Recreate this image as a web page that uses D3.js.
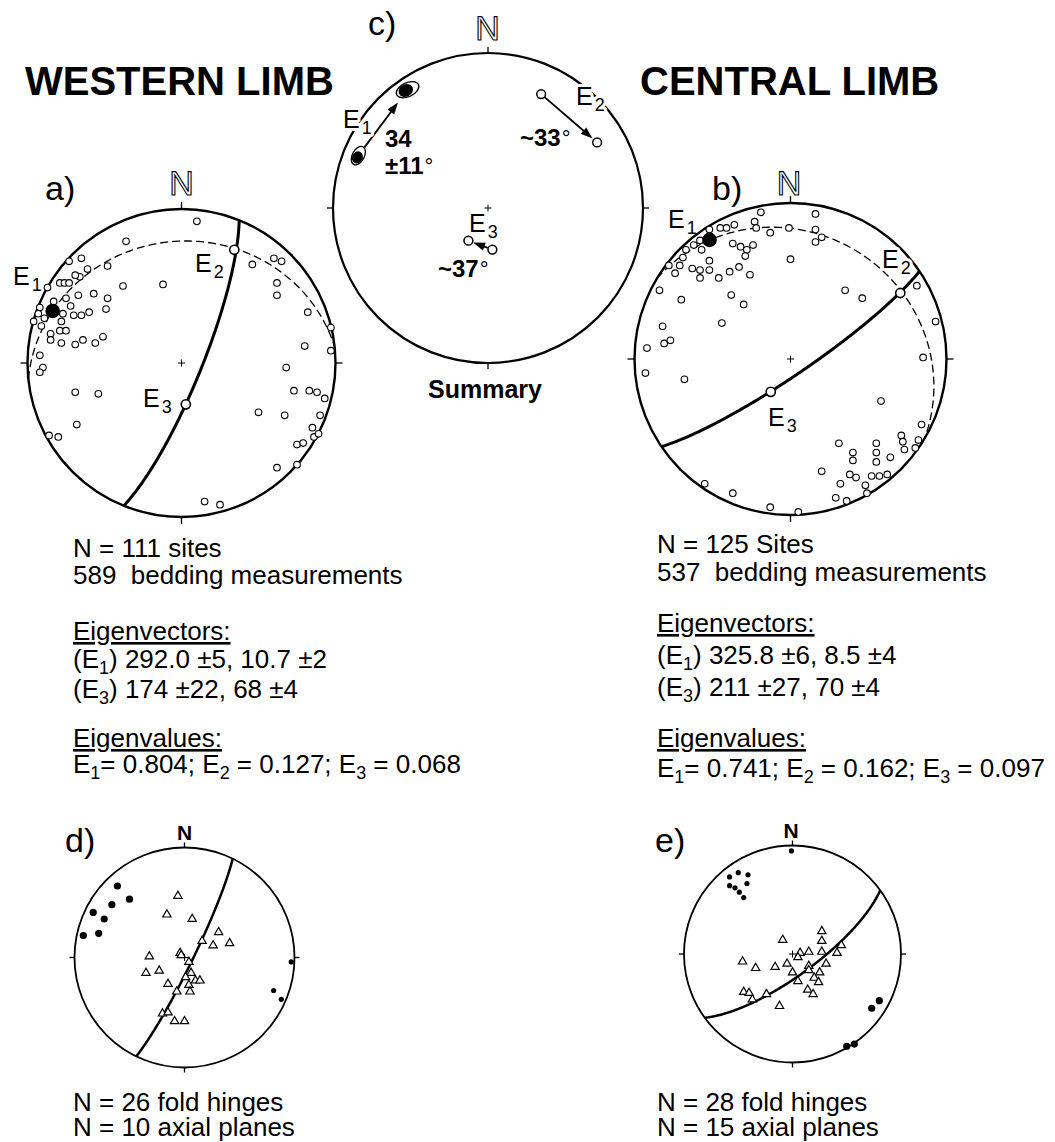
<!DOCTYPE html>
<html>
<head>
<meta charset="utf-8">
<script src="https://cdn.jsdelivr.net/npm/d3@7"></script>
<style>
  body { margin: 0; background: #fff; }
  svg { display: block; }
  text { font-family: "Liberation Sans", Arial, Helvetica, sans-serif; fill: #000; }
</style>
</head>
<body>
<svg id="fig" width="1055" height="1142"></svg>
<script>
const westPoles = [
  [0.10, 0.92], [-0.36, 0.79], [-0.73, 0.66], [-0.65, 0.68], [-0.61, 0.61], [-0.48, 0.63],
  [-0.66, 0.56], [-0.69, 0.57], [-0.79, 0.52], [-0.76, 0.52], [-0.73, 0.52], [-0.87, 0.49],
  [-0.75, 0.42], [-0.67, 0.44], [-0.57, 0.45], [-0.48, 0.42], [-0.38, 0.50], [-0.12, 0.51],
  [-0.83, 0.40], [-0.92, 0.36], [-0.49, 0.35], [-0.60, 0.33], [-0.70, 0.31], [-0.65, 0.31],
  [-0.72, 0.37], [-0.78, 0.27], [-0.96, 0.27], [-0.91, 0.24], [-0.85, 0.19], [-0.79, 0.21],
  [-0.75, 0.21], [-0.85, 0.15], [-0.78, 0.13], [-0.69, 0.12], [-0.64, 0.15], [-0.56, 0.13],
  [-0.51, 0.17], [-0.93, 0.32], [-0.89, 0.29], [-0.77, 0.32], [-0.92, 0.05], [-0.90, -0.03],
  [-0.92, -0.06], [-0.69, -0.19], [-0.54, -0.20], [-0.68, -0.40], [-0.86, -0.47], [-0.80, -0.48],
  [0.15, -0.90], [0.25, -0.92], [0.46, 0.64], [0.60, 0.68], [0.65, 0.66], [0.62, 0.52],
  [0.62, 0.44], [0.82, 0.33], [0.97, 0.23], [0.80, 0.11], [0.97, 0.08], [0.68, -0.03],
  [0.73, -0.18], [0.83, -0.18], [0.88, -0.19], [0.93, -0.23], [0.50, -0.32], [0.67, -0.34],
  [0.90, -0.34], [0.85, -0.42], [0.86, -0.48], [0.89, -0.46], [0.75, -0.53], [0.79, -0.52],
  [0.62, -0.68], [0.75, -0.66]
];
const centralPoles = [
  [-0.19, 0.94], [0.16, 0.93], [-0.52, 0.83], [-0.45, 0.84], [-0.41, 0.84], [-0.36, 0.86],
  [-0.23, 0.88], [-0.22, 0.84], [-0.13, 0.81], [-0.01, 0.84], [0.16, 0.83], [0.16, 0.75],
  [0.20, 0.78], [-0.58, 0.76], [-0.62, 0.73], [-0.67, 0.70], [-0.57, 0.70], [-0.37, 0.74],
  [-0.32, 0.72], [-0.24, 0.73], [-0.28, 0.70], [-0.29, 0.66], [0.00, 0.64], [-0.69, 0.65],
  [-0.71, 0.60], [-0.78, 0.60], [-0.74, 0.55], [-0.63, 0.58], [-0.52, 0.63], [-0.58, 0.57],
  [-0.52, 0.57], [-0.58, 0.52], [-0.46, 0.52], [-0.39, 0.56], [-0.33, 0.59], [-0.26, 0.54],
  [-0.84, 0.44], [-0.70, 0.38], [-0.38, 0.41], [-0.30, 0.35], [-0.44, 0.23], [0.35, 0.44],
  [0.46, 0.39], [0.81, 0.47], [0.93, 0.24], [0.85, 0.01], [-0.82, 0.21], [-0.81, 0.10],
  [-0.77, 0.12], [-0.92, 0.07], [-0.93, -0.09], [-0.68, -0.13], [0.58, -0.27], [0.84, -0.42],
  [0.71, -0.49], [0.72, -0.53], [0.73, -0.58], [0.80, -0.57], [0.82, -0.52], [0.31, -0.54],
  [0.40, -0.60], [0.40, -0.65], [0.55, -0.54], [0.55, -0.60], [0.55, -0.66], [0.64, -0.63],
  [0.20, -0.72], [0.32, -0.80], [0.38, -0.74], [0.42, -0.76], [0.48, -0.81], [0.52, -0.75],
  [0.57, -0.75], [0.62, -0.74], [0.29, -0.89], [0.36, -0.91], [0.49, -0.86], [-0.55, -0.80],
  [-0.37, -0.86], [-0.13, -0.95], [0.05, -0.98]
];

// eigenvectors [trend, plunge]: E1, E2, E3
const westEigen = [[292.0, 10.7], [25, 20], [174, 68]];
const centralEigen = [[325.8, 8.5], [59, 19], [211, 70]];

// fold hinges (triangles), poles to axial planes (dots), pole of the plane drawn through the hinges
const westHinges = [
  [-0.06, 0.56], [-0.16, 0.39], [0.07, 0.35], [0.31, 0.23], [0.16, 0.15], [0.26, 0.11],
  [0.41, 0.13], [-0.04, 0.04], [-0.03, 0.02], [-0.32, 0.01], [0.04, -0.04], [-0.35, -0.14],
  [-0.23, -0.12], [0.06, -0.14], [0.01, -0.18], [0.10, -0.21], [0.14, -0.21], [-0.15, -0.24],
  [0.04, -0.25], [0.05, -0.31], [-0.07, -0.31], [-0.20, -0.51], [-0.15, -0.50], [-0.09, -0.58],
  [0.00, -0.58]
];
const westAxialPoles = [
  [-0.61, 0.65], [-0.50, 0.53], [-0.66, 0.48], [-0.83, 0.41], [-0.73, 0.35], [-0.92, 0.20],
  [-0.78, 0.22], [0.97, -0.04], [0.81, -0.30], [0.88, -0.38]
];
const westHingePlane = [296, 6];
const centralHinges = [
  [0.27, 0.21], [0.27, 0.12], [-0.09, 0.13], [0.45, 0.08], [0.27, 0.02], [0.41, 0.01],
  [0.15, 0.02], [0.07, 0.01], [0.05, -0.03], [-0.46, -0.07], [-0.34, -0.13], [-0.16, -0.12],
  [-0.05, -0.09], [0.31, -0.09], [0.15, -0.11], [0.15, -0.15], [0.00, -0.17], [0.25, -0.17],
  [0.20, -0.22], [0.24, -0.26], [0.05, -0.25], [0.14, -0.33], [0.19, -0.37], [-0.45, -0.35],
  [-0.40, -0.36], [-0.37, -0.42], [-0.24, -0.37], [-0.12, -0.48]
];
const centralAxialPoles = [
  [-0.01, 0.95], [-0.58, 0.71], [-0.50, 0.75], [-0.41, 0.73], [-0.42, 0.65], [-0.58, 0.63],
  [-0.53, 0.61], [-0.49, 0.57], [-0.45, 0.52], [0.80, -0.43], [0.73, -0.50], [0.50, -0.85],
  [0.57, -0.83]
];
const centralHingePlane = [324, 16];

const westText = [
  "N = 111 sites", "589  bedding measurements", "Eigenvectors:",
  "(E_1) 292.0 ±5, 10.7 ±2", "(E_3) 174 ±22, 68 ±4", "Eigenvalues:",
  "E_1= 0.804; E_2 = 0.127; E_3 = 0.068"
];
const centralText = [
  "N = 125 Sites", "537  bedding measurements", "Eigenvectors:",
  "(E_1) 325.8 ±6, 8.5 ±4", "(E_3) 211 ±27, 70 ±4", "Eigenvalues:",
  "E_1= 0.741; E_2 = 0.162; E_3 = 0.097"
];
const westFoldText = ["N = 26 fold hinges", "N = 10 axial planes"];
const centralFoldText = ["N = 28 fold hinges", "N = 15 axial planes"];

const svg = d3.select("#fig");
const toGeo = ([t, p]) => [180 - t, p];

function makeNet(cx, cy, R, rim, tick) {
  const g = svg.append("g");
  const x = d3.scaleLinear().domain([-1, 1]).range([cx - R, cx + R]);
  const y = d3.scaleLinear().domain([-1, 1]).range([cy + R, cy - R]);
  const proj = d3.geoAzimuthalEqualArea()
    .rotate([0, -90])
    .scale(R / Math.SQRT2)
    .translate([cx, cy])
    .clipAngle(90);
  const path = d3.geoPath(proj);
  g.append("circle")
    .attr("cx", cx).attr("cy", cy).attr("r", R)
    .attr("fill", "none").attr("stroke", "#000").attr("stroke-width", rim);
  g.selectAll(".tick")
    .data([[0, 1], [1, 0], [0, -1], [-1, 0]])
    .join("line")
    .attr("x1", d => cx + d[0] * R).attr("y1", d => cy - d[1] * R)
    .attr("x2", d => cx + d[0] * (R + tick)).attr("y2", d => cy - d[1] * (R + tick))
    .attr("stroke", "#000").attr("stroke-width", 1.3);
  g.append("path")
    .attr("d", `M${cx - 3.5},${cy}h7M${cx},${cy - 3.5}v7`)
    .attr("stroke", "#000").attr("stroke-width", 1);
  return { g, x, y, proj, path };
}

function greatCircle(n, pole) {
  const ring = d3.geoCircle().center(toGeo(pole)).radius(90).precision(1)().coordinates[0];
  return n.g.append("path")
    .attr("d", n.path({ type: "LineString", coordinates: ring }))
    .attr("fill", "none").attr("stroke", "#000");
}

function openPoles(n, data, r) {
  n.g.append("g").selectAll("circle").data(data).join("circle")
    .attr("cx", d => n.x(d[0])).attr("cy", d => n.y(d[1])).attr("r", r)
    .attr("fill", "#fff").attr("stroke", "#000").attr("stroke-width", 1.1);
}

function eigenMarks(n, eig) {
  n.g.append("g").selectAll("circle").data(eig).join("circle")
    .attr("cx", d => n.proj(toGeo(d))[0]).attr("cy", d => n.proj(toGeo(d))[1])
    .attr("r", (d, i) => i === 0 ? 6.5 : 4.6)
    .attr("fill", (d, i) => i === 0 ? "#000" : "#fff")
    .attr("stroke", "#000").attr("stroke-width", 1.6);
}

function halo(t) {
  return t.attr("stroke", "#fff").attr("stroke-width", 6)
    .attr("paint-order", "stroke").attr("stroke-linejoin", "round");
}

function eLabel(x, y, sub, withHalo) {
  const t = svg.append("text").attr("x", x).attr("y", y).attr("font-size", 25);
  if (withHalo) halo(t);
  t.append("tspan").text("E");
  t.append("tspan").attr("font-size", 18).attr("dx", 2).attr("dy", 6).text(sub);
}

function rich(t, str, subSize, subDy) {
  let down = false;
  str.split(/(_\d)/).filter(s => s).forEach(s => {
    const sp = t.append("tspan");
    if (s[0] === "_") {
      sp.attr("font-size", subSize).attr("dy", subDy).text(s.slice(1));
      down = true;
    } else {
      if (down) { sp.attr("dy", -subDy); down = false; }
      sp.text(s);
    }
  });
}

function block(x, ys, lines) {
  lines.forEach((s, i) => {
    const t = svg.append("text").attr("x", x).attr("y", ys[i])
      .attr("font-size", 26).style("white-space", "pre");
    if (s.startsWith("Eigen")) t.attr("text-decoration", "underline");
    rich(t, s, 18, 6);
  });
}

function label(x, y, str, size, opts = {}) {
  const t = svg.append("text").attr("x", x).attr("y", y).attr("font-size", size).text(str);
  if (opts.bold) t.attr("font-weight", "bold");
  if (opts.anchor) t.attr("text-anchor", opts.anchor);
  if (opts.outline) {
    t.style("fill", "#fff").attr("stroke", "#000").attr("stroke-width", 1.1)
      .attr("opacity", 0.99).style("text-rendering", "geometricPrecision");
  }
  return t;
}

// ---- a) western limb
const a = makeNet(181.5, 363, 154, 2.4, 7);
greatCircle(a, westEigen[2]).attr("stroke-width", 1.3).attr("stroke-dasharray", "8,4");
greatCircle(a, westEigen[0]).attr("stroke-width", 3);
openPoles(a, westPoles, 3.3);
eigenMarks(a, westEigen);
eLabel(13, 285, "1");
eLabel(195, 272, "2");
eLabel(143, 407, "3");

// ---- b) central limb
const b = makeNet(790.5, 359, 156, 2.4, 7);
greatCircle(b, centralEigen[2]).attr("stroke-width", 1.3).attr("stroke-dasharray", "8,4");
greatCircle(b, centralEigen[0]).attr("stroke-width", 3);
openPoles(b, centralPoles, 3.3);
eigenMarks(b, centralEigen);
eLabel(668, 228, "1");
eLabel(882, 268, "2", true);
eLabel(768, 426, "3");

// ---- c) summary
const c = makeNet(488, 208, 155, 2.2, 6);
eLabel(343, 128, "1", true);
eLabel(576, 105, "2", true);
eLabel(469, 232, "3");

function arrow(n, from, to, cut0, cut1) {
  const [x0, y0] = n.proj(toGeo(from)), [x1, y1] = n.proj(toGeo(to));
  const L = Math.hypot(x1 - x0, y1 - y0), ux = (x1 - x0) / L, uy = (y1 - y0) / L;
  const sx = x0 + ux * cut0, sy = y0 + uy * cut0;
  const ex = x1 - ux * cut1, ey = y1 - uy * cut1;
  const hl = 12, hw = 4.2;
  const bx = ex - ux * hl, by = ey - uy * hl;
  n.g.append("line").attr("x1", sx).attr("y1", sy).attr("x2", bx + ux * 2).attr("y2", by + uy * 2)
    .attr("stroke", "#000").attr("stroke-width", 1.8);
  n.g.append("path")
    .attr("d", `M${ex},${ey}L${bx - uy * hw},${by + ux * hw}L${bx + uy * hw},${by - ux * hw}Z`)
    .attr("fill", "#000");
}

function confEllipse(n, e, rx, ry, ang) {
  const [px, py] = n.proj(toGeo(e));
  const g = n.g.append("g").attr("transform", `translate(${px},${py}) rotate(${ang})`);
  g.append("ellipse").attr("rx", rx).attr("ry", ry)
    .attr("fill", "#fff").attr("stroke", "#000").attr("stroke-width", 1.3);
  g.append("ellipse").attr("cx", -2).attr("rx", rx * 0.62).attr("ry", ry * 0.88).attr("fill", "#000");
}

arrow(c, westEigen[0], centralEigen[0], 10, 16);
arrow(c, westEigen[1], centralEigen[1], 5, 6);
arrow(c, westEigen[2], centralEigen[2], 5, 5);
confEllipse(c, westEigen[0], 10, 6, -62);
confEllipse(c, centralEigen[0], 12, 7, -25);
c.g.append("g").selectAll("circle").data([westEigen[1], centralEigen[1], westEigen[2], centralEigen[2]])
  .join("circle")
  .attr("cx", d => c.proj(toGeo(d))[0]).attr("cy", d => c.proj(toGeo(d))[1])
  .attr("r", 4.4).attr("fill", "#fff").attr("stroke", "#000").attr("stroke-width", 1.5);

function degText(x, y, str) {
  const t = svg.append("text").attr("x", x).attr("y", y).attr("font-size", 24).attr("font-weight", "bold");
  t.append("tspan").text(str);
  t.append("tspan").attr("font-weight", "normal").attr("font-size", 22).attr("dx", 1).text("°");
}
label(385, 147, "34", 24, { bold: true });
degText(385, 174, "±11");
degText(520, 146, "~33");
degText(438, 277, "~37");
label(428, 398, "Summary", 25, { bold: true });

// ---- d) and e) fold hinges and axial planes
function foldNet(cx, cy, R, hinges, axial, plane, bigDot) {
  const n = makeNet(cx, cy, R, 1.8, 5);
  greatCircle(n, plane).attr("stroke-width", 2.5);
  n.g.append("g").selectAll("path").data(hinges).join("path")
    .attr("transform", d => `translate(${n.x(d[0])},${n.y(d[1])})`)
    .attr("d", d3.symbol(d3.symbolTriangle, 30))
    .attr("fill", "#fff").attr("stroke", "#000").attr("stroke-width", 1.2);
  n.g.append("g").selectAll("circle").data(axial).join("circle")
    .attr("cx", d => n.x(d[0])).attr("cy", d => n.y(d[1]))
    .attr("r", d => bigDot(d) ? 3.6 : 2.6).attr("fill", "#000");
  return n;
}
foldNet(184.5, 957.5, 110, westHinges, westAxialPoles, westHingePlane, d => d[0] < 0);
foldNet(792.5, 954, 108.5, centralHinges, centralAxialPoles, centralHingePlane, d => d[0] > 0);

// ---- titles, panel letters, north marks
label(25, 95, "WESTERN LIMB", 40, { bold: true });
label(640, 95, "CENTRAL LIMB", 40, { bold: true });
label(45, 200, "a)", 34);
label(712, 200, "b)", 34);
label(368, 35, "c)", 34);
label(65, 852, "d)", 34);
label(655, 852, "e)", 34);
label(181.5, 195, "N", 34, { anchor: "middle", outline: true });
label(789, 195, "N", 34, { anchor: "middle", outline: true });
label(487.5, 40, "N", 34, { anchor: "middle", outline: true });
label(184.5, 840, "N", 21, { anchor: "middle", bold: true });
label(791, 838, "N", 21, { anchor: "middle", bold: true });

// ---- text blocks
block(73, [557, 584, 640, 668, 698, 747, 773], westText);
block(657, [553, 581, 632, 664, 696, 747, 777], centralText);
block(73, [1111, 1136], westFoldText);
block(657, [1111, 1136], centralFoldText);
</script>
</body>
</html>
